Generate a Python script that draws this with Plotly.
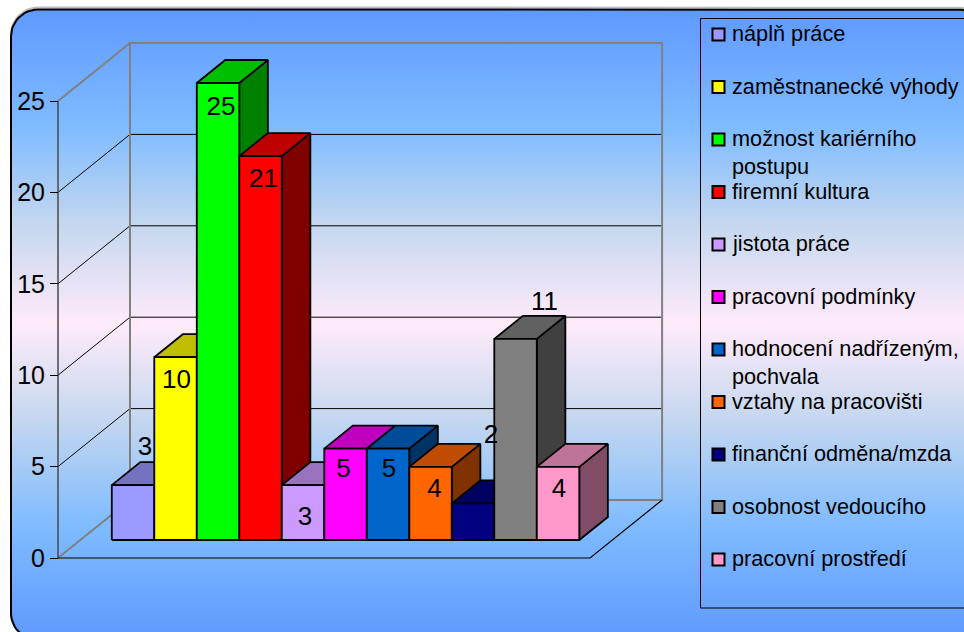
import math
import plotly.graph_objects as go

# Survey categories and answer counts
categories = [
    "náplň práce", "zaměstnanecké výhody", "možnost kariérního postupu",
    "firemní kultura", "jistota práce", "pracovní podmínky",
    "hodnocení nadřízeným, pochvala", "vztahy na pracovišti",
    "finanční odměna/mzda", "osobnost vedoucího", "pracovní prostředí",
]
legend_labels = [
    "náplň práce", "zaměstnanecké výhody", "možnost kariérního<br>postupu",
    "firemní kultura", "jistota práce", "pracovní podmínky",
    "hodnocení nadřízeným,<br>pochvala", "vztahy na pracovišti",
    "finanční odměna/mzda", "osobnost vedoucího", "pracovní prostředí",
]
values = [3, 10, 25, 21, 3, 5, 5, 4, 2, 11, 4]
y_ticks = [0, 5, 10, 15, 20, 25]

front_colors = ["#9999FF", "#FFFF00", "#00FF00", "#FF0000", "#CC99FF", "#FF00FF",
                "#0066CC", "#FF6600", "#000080", "#808080", "#FF99CC"]

# Offset of each value label from the top centre of its bar, in pixels
label_dx = [12, 1, 3, 3, 2, -2, 1, 4, 18, 29, 1]
label_dy = [-37, 24, 25, 24, 33, 22, 22, 24, -67, -35, 24]

W, H = 964, 632
X0_PX, Y0_PX = 58, 558      # front-left floor corner
UX, UY = 42.5, 18.28        # pixels per category slot / per answer
WALL_DX, WALL_DY = 72, 58   # oblique shift of the back wall, pixels
BAR_FRONT = 18 / 58         # bars start this far into the floor
BAR_BACK = 41 / 58          # and end here
SLOT_GAP = 0.74             # empty floor before the first slot
FLOOR_W = 12.52             # floor width in slots
FONT = "Liberation Sans, Arial, sans-serif"


def shade(color, k):
    r, g, b = (int(color[i:i + 2], 16) for i in (1, 3, 5))
    return f"rgb({round(r * k)},{round(g * k)},{round(b * k)})"


def project(c, v, depth=0.0):
    """Category position, value and floor depth -> axis coordinates."""
    return c + depth * WALL_DX / UX, v + depth * WALL_DY / UY


def from_px(px, py):
    return (px - X0_PX) / UX, (Y0_PX - py) / UY


def poly(points):
    pts = [project(*p) for p in points]
    pts.append(pts[0])
    return [p[0] for p in pts], [p[1] for p in pts]


def line(fig, points, color, width):
    pts = [project(*p) for p in points]
    fig.add_trace(go.Scatter(x=[p[0] for p in pts], y=[p[1] for p in pts], mode="lines",
                             line=dict(color=color, width=width), hoverinfo="skip",
                             showlegend=False))


def rounded_panel(left, top, right, bottom, r):
    pts = []
    corners = [(left + r, top + r, 180), (right - r, top + r, 270),
               (right - r, bottom - r, 0), (left + r, bottom - r, 90)]
    for cx, cy, start in corners:
        for k in range(13):
            a = math.radians(start + k * 7.5)
            pts.append(from_px(cx + r * math.cos(a), cy + r * math.sin(a)))
    pts.append(pts[0])
    return [p[0] for p in pts], [p[1] for p in pts]


fig = go.Figure()

# Panel with its thin light edge and vertical gradient
ex, ey = rounded_panel(11, 7.5, 985, 640, 27)
fig.add_trace(go.Scatter(x=ex, y=ey, mode="lines", line=dict(color="#BEBEBE", width=2),
                         hoverinfo="skip", showlegend=False))
px_, py_ = rounded_panel(11, 9.5, 985, 640, 27)
fig.add_trace(go.Scatter(
    x=px_, y=py_, mode="lines", fill="toself", line=dict(color="#000000", width=2),
    fillgradient=dict(type="vertical", colorscale=[
        [0.0, "#5E99FF"], [0.185, "#80BCFF"], [0.35, "#C4D7EF"], [0.5, "#FFEBFA"],
        [0.66, "#C4D7EF"], [0.81, "#80BCFF"], [1.0, "#5E99FF"]]),
    hoverinfo="skip", showlegend=False))

# Walls and gridlines
top = y_ticks[-1]
for t in y_ticks[1:-1]:
    line(fig, [(0, t, 0), (0, t, 1), (FLOOR_W, t, 1)], "#000000", 1)
line(fig, [(0, 0, 1), (0, top, 1), (FLOOR_W, top, 1), (FLOOR_W, 0, 1), (0, 0, 1)], "#808080", 2)
line(fig, [(0, top, 0), (0, top, 1)], "#808080", 2)
line(fig, [(0, 0, 0), (0, 0, 1)], "#808080", 2)
line(fig, [(0, 0, 0), (0, top, 0)], "#484848", 1.5)
line(fig, [(0, 0, 0), (FLOOR_W, 0, 0), (FLOOR_W, 0, 1)], "#000000", 1.2)

# Bars, painted left to right so each one covers its neighbour's side face
for i, (name, v, col) in enumerate(zip(categories, values, front_colors)):
    a, b = SLOT_GAP + i, SLOT_GAP + i + 1
    faces = [
        ([(b, 0, BAR_FRONT), (b, 0, BAR_BACK), (b, v, BAR_BACK), (b, v, BAR_FRONT)], shade(col, 0.5)),
        ([(a, v, BAR_FRONT), (a, v, BAR_BACK), (b, v, BAR_BACK), (b, v, BAR_FRONT)], shade(col, 0.75)),
        ([(a, 0, BAR_FRONT), (a, v, BAR_FRONT), (b, v, BAR_FRONT), (b, 0, BAR_FRONT)], col),
    ]
    for pts, fill in faces:
        xs, ys = poly(pts)
        fig.add_trace(go.Scatter(x=xs, y=ys, mode="lines", fill="toself", fillcolor=fill,
                                 line=dict(color="#000000", width=1.8), name=name,
                                 hovertemplate=f"{name}: {v}<extra></extra>", showlegend=False))

# Value labels
lx, ly = [], []
for i, v in enumerate(values):
    cx, cy = project(SLOT_GAP + i + 0.5, v, BAR_FRONT)
    lx.append(cx + label_dx[i] / UX)
    ly.append(cy - label_dy[i] / UY)
fig.add_trace(go.Scatter(x=lx, y=ly, mode="text", text=[str(v) for v in values],
                         textposition="middle center",
                         textfont=dict(family=FONT, size=26, color="#000000"),
                         hoverinfo="skip", showlegend=False))

# Legend box with evenly spaced rows; long names wrap past their row
shapes = [dict(type="rect", xref="paper", yref="paper", x0=700.5 / W, x1=1.02,
               y0=1 - 608 / H, y1=1 - 18.5 / H, line=dict(color="#000000", width=1),
               fillcolor="rgba(0,0,0,0)")]
annotations = []
ROW0, ROW_STEP = 34.5, 52.5
for i, (label, col) in enumerate(zip(legend_labels, front_colors)):
    yc = ROW0 + i * ROW_STEP
    shapes.append(dict(type="rect", xref="paper", yref="paper", x0=712.5 / W, x1=724.5 / W,
                       y0=1 - (yc + 6) / H, y1=1 - (yc - 6) / H,
                       line=dict(color="#000000", width=2), fillcolor=col))
    annotations.append(dict(xref="paper", yref="paper", x=731 / W, y=1 - (yc - 14.5) / H,
                            xanchor="left", yanchor="top", align="left", showarrow=False,
                            text=label, borderpad=0,
                            font=dict(family=FONT, size=21.7, color="#000000")))

fig.update_layout(
    width=W, height=H, margin=dict(l=0, r=0, t=0, b=0),
    paper_bgcolor="#FFFFFF", plot_bgcolor="rgba(0,0,0,0)",
    showlegend=False, shapes=shapes, annotations=annotations,
    xaxis=dict(visible=False, range=[-X0_PX / UX, (W - X0_PX) / UX], fixedrange=True),
    yaxis=dict(range=[(Y0_PX - H) / UY, Y0_PX / UY], anchor="free", position=X0_PX / W,
               tickmode="array", tickvals=y_ticks, ticks="outside", ticklen=8, tickwidth=1,
               tickcolor="#000000", showgrid=False, zeroline=False, showline=False,
               tickfont=dict(family=FONT, size=25, color="#000000"), fixedrange=True),
)

fig.write_html("out.html", config=dict(displayModeBar=False))
